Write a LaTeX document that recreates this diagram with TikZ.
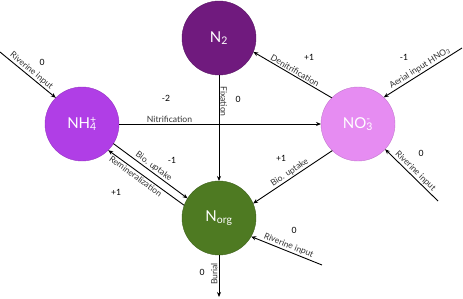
\documentclass[tikz,border=0pt]{standalone}
\usepackage{fontspec}
\setmainfont{Lato}
\usepackage{xcolor}
\usetikzlibrary{arrows.meta}

\definecolor{ntwo}{HTML}{701A7E}
\definecolor{nhfour}{HTML}{B03EE6}
\definecolor{nothree}{HTML}{E68CF2}
\definecolor{norgc}{HTML}{4E7A22}

\begin{document}
\begin{tikzpicture}[x=1pt, y=-1pt,
  pool/.style={circle, minimum size=74pt, inner sep=0pt, outer sep=0pt, text=white, font=\fontsize{15}{16}\selectfont},
  lbl/.style={font=\fontsize{8.6}{9}\selectfont, text=black!80, inner sep=1.2pt},
  num/.style={font=\fontsize{8.6}{9}\selectfont, inner sep=0pt},
  arr/.style={-{Stealth[length=5pt, width=4pt]}, line width=0.9pt}
]
\useasboundingbox (0,0) rectangle (463,298);

% pools
\node[pool, fill=ntwo, draw=ntwo!80!black] (n2) at (219,38) {N\textsubscript{2}};
\node[pool, fill=nhfour, draw=nhfour!85!black] (nh4) at (82,124) {NH\rlap{\textsuperscript{+}}\textsubscript{4}};
\node[pool, fill=nothree, draw=nothree!85!black] (no3) at (358,124) {NO\rlap{\textsuperscript{-}}\textsubscript{3}};
\node[pool, fill=norgc, draw=norgc!80!black] (norg) at (219,218) {N\textsubscript{org}};

% free ends
\coordinate (rivA) at (0,52);
\coordinate (aerial) at (462,48);
\coordinate (rivB) at (438,201);
\coordinate (rivC) at (322,265);
\coordinate (bur) at (219,297);

% fluxes
\draw[arr] (rivA) -- node[lbl, sloped, above] {Riverine input} (nh4.135);
\draw[arr] (nh4.east) -- node[lbl, above, pos=0.25] {Nitrification} (no3.west);
\draw[arr] (n2.south) -- node[lbl, rotate=-90, anchor=south, pos=0.25] {Fixation} (norg.north);
\draw[arr] (no3.135) -- node[lbl, sloped, above] {Denitrification} (n2.-22);
\draw[arr] (aerial) -- node[lbl, sloped, above] {Aerial input HNO\textsubscript{3}} (no3.46);
\draw[arr] (rivB) -- node[lbl, sloped, above] {Riverine input} (no3.-43);
\draw[arr] (no3.-134) -- node[lbl, sloped, above] {Bio. uptake} (norg.23);
\draw[arr] (rivC) -- node[lbl, sloped, above] {Riverine input} (norg.-30);
\draw[arr] (nh4.-32) -- node[lbl, sloped, above] {Bio. uptake} (norg.148);
\draw[arr] (norg.160) -- node[lbl, sloped, below, pos=0.6] {Remineralization} (nh4.-45);
\draw[arr] (norg.south) -- node[lbl, rotate=90, anchor=south, pos=0.45] {Burial} (bur);

% rates
\node[num] (rA) at (42,62) {0};
\node[num] (rnit) at (166,98) {-2};
\node[num] (rfix) at (238,99) {0};
\node[num] (rden) at (309,57) {+1};
\node[num] (raer) at (404,57) {-1};
\node[num] (rB) at (421,153) {0};
\node[num] (rbio) at (281,158) {+1};
\node[num] (rbioA) at (172,160) {-1};
\node[num] (rrem) at (116,192) {+1};
\node[num] (rC) at (294,230) {0};
\node[num] (rbur) at (202,272) {0};
\end{tikzpicture}
\end{document}
